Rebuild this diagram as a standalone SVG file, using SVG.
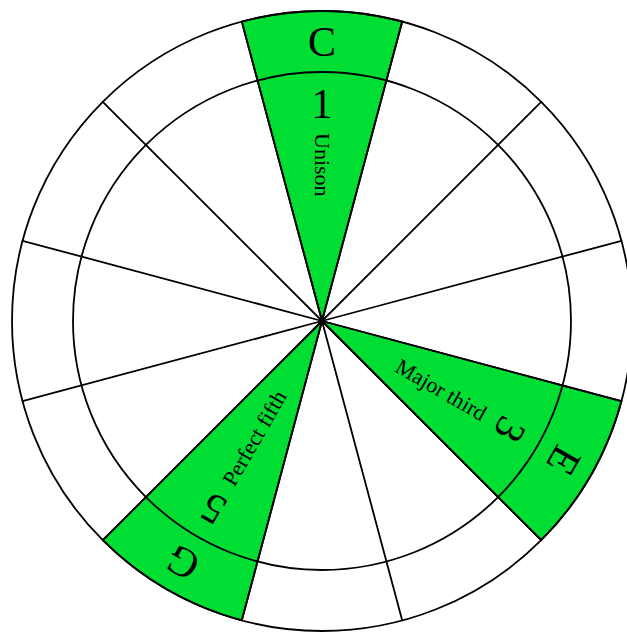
<svg xmlns="http://www.w3.org/2000/svg" width="627" height="632" viewBox="0 0 627 632">
<style>
.sec{fill:#00dd33;stroke:#000;stroke-width:1.8;stroke-linejoin:round}
.ring{fill:none;stroke:#000;stroke-width:1.8}
.ray{stroke:#000;stroke-width:1.8;stroke-linecap:round}
.note{font-family:"Liberation Serif",serif;font-size:42px;fill:#000;text-anchor:middle;dominant-baseline:central}
.deg{font-family:"Liberation Serif",serif;font-size:42px;fill:#000;text-anchor:middle;dominant-baseline:central}
.lbl{font-family:"Liberation Serif",serif;font-size:22px;fill:#000;dominant-baseline:central}
</style>
<defs>
<path id="wedge" d="M0 0 L-80.23 -299.44 A310 310 0 0 1 80.23 -299.44 Z"/>
</defs>
<rect width="627" height="632" fill="#fff"/>
<g id="sectors">
<use href="#wedge" class="sec" transform="translate(322,321) rotate(0)"/>
<use href="#wedge" class="sec" transform="translate(322,321) rotate(120)"/>
<use href="#wedge" class="sec" transform="translate(322,321) rotate(210)"/>
</g>
<g id="connectors">
<circle class="ring" cx="322" cy="321" r="310"/>
<circle class="ring" cx="322" cy="321" r="249"/>
<g transform="translate(322,321)">
<line class="ray" x1="0" y1="0" x2="0" y2="-310" transform="rotate(15)"/>
<line class="ray" x1="0" y1="0" x2="0" y2="-310" transform="rotate(45)"/>
<line class="ray" x1="0" y1="0" x2="0" y2="-310" transform="rotate(75)"/>
<line class="ray" x1="0" y1="0" x2="0" y2="-310" transform="rotate(105)"/>
<line class="ray" x1="0" y1="0" x2="0" y2="-310" transform="rotate(135)"/>
<line class="ray" x1="0" y1="0" x2="0" y2="-310" transform="rotate(165)"/>
<line class="ray" x1="0" y1="0" x2="0" y2="-310" transform="rotate(195)"/>
<line class="ray" x1="0" y1="0" x2="0" y2="-310" transform="rotate(225)"/>
<line class="ray" x1="0" y1="0" x2="0" y2="-310" transform="rotate(255)"/>
<line class="ray" x1="0" y1="0" x2="0" y2="-310" transform="rotate(285)"/>
<line class="ray" x1="0" y1="0" x2="0" y2="-310" transform="rotate(315)"/>
<line class="ray" x1="0" y1="0" x2="0" y2="-310" transform="rotate(345)"/>
</g>
</g>
<g id="node-C" transform="translate(322,321) rotate(0)">
<text class="note" x="0" y="-279">C</text>
<text class="deg" x="0" y="-217">1</text>
<text class="lbl" transform="translate(0,-188) rotate(90)" text-anchor="start">Unison</text>
</g>
<g id="node-E" transform="translate(322,321) rotate(120)">
<text class="note" x="0" y="-279">E</text>
<text class="deg" x="0" y="-217">3</text>
<text class="lbl" transform="translate(0,-188) rotate(-90)" text-anchor="end">Major third</text>
</g>
<g id="node-G" transform="translate(322,321) rotate(210)">
<text class="note" x="0" y="-279">G</text>
<text class="deg" x="0" y="-217">5</text>
<text class="lbl" transform="translate(0,-188) rotate(90)" text-anchor="start">Perfect fifth</text>
</g>
</svg>
